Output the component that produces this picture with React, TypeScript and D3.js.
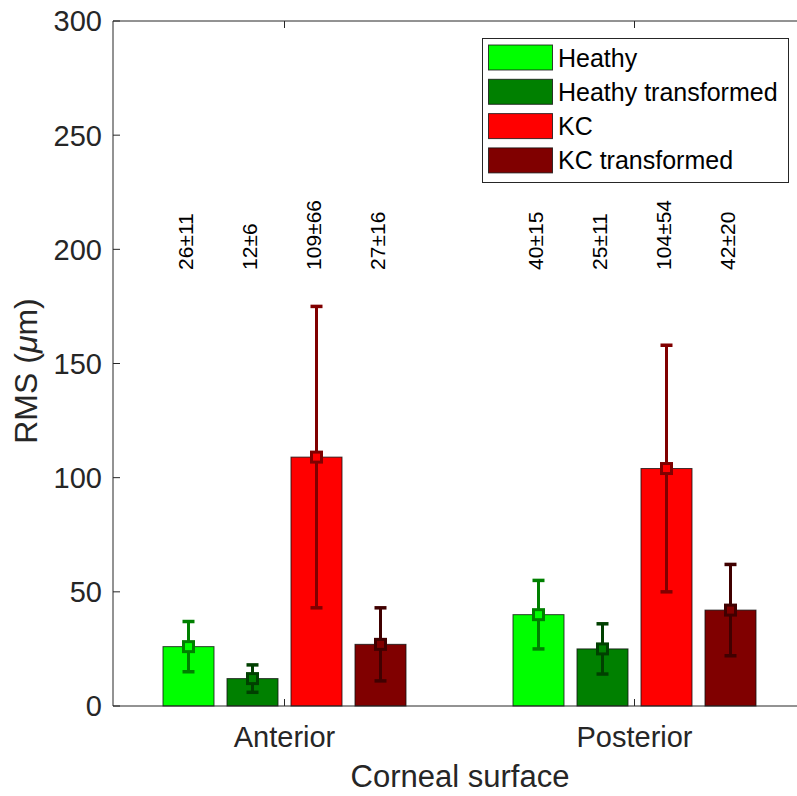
import React, { useEffect, useRef } from "react";
import * as d3 from "d3";

const categories = ["Anterior", "Posterior"];
const series = ["Heathy", "Heathy transformed", "KC", "KC transformed"];
const meanValues = [
  [26, 12, 109, 27],
  [40, 25, 104, 42],
];
const sdValues = [
  [11, 6, 66, 16],
  [15, 11, 54, 20],
];
const yTicks = [0, 50, 100, 150, 200, 250, 300];
const barColors = ["#00ff00", "#008000", "#ff0000", "#800000"];
const errColors = ["#008000", "#004000", "#800000", "#400000"];

const FONT = "'Liberation Sans', Arial, Helvetica, sans-serif";

export default function App() {
  const ref = useRef<SVGSVGElement | null>(null);

  useEffect(() => {
    const m = { left: 113, top: 21, right: 807, bottom: 706 };

    const svg = d3.select(ref.current);
    svg.selectAll("*").remove();

    // groups sit at x = 1 and 2, like matlab's bar()
    const x = d3.scaleLinear().domain([0.51, 2.51]).range([m.left, m.left + 700]);
    const y = d3.scaleLinear().domain([0, 300]).range([m.bottom, m.top]);
    const inner = d3
      .scaleBand()
      .domain(series)
      .range([-128, 128])
      .paddingInner(0.203)
      .paddingOuter(0.1015);

    const g = svg.append("g");

    // bars
    categories.forEach((cat, ci) => {
      const cx = x(ci + 1);
      series.forEach((s, si) => {
        const v = meanValues[ci][si];
        g.append("rect")
          .attr("x", cx + (inner(s) as number))
          .attr("y", y(v))
          .attr("width", inner.bandwidth())
          .attr("height", y(0) - y(v))
          .attr("fill", barColors[si])
          .attr("stroke", "#111")
          .attr("stroke-opacity", 0.8)
          .attr("stroke-width", 1);
      });
    });

    // error bars, markers, text
    categories.forEach((cat, ci) => {
      const cx = x(ci + 1);
      series.forEach((s, si) => {
        const bx = cx + (inner(s) as number) + inner.bandwidth() / 2;
        const v = meanValues[ci][si];
        const e = sdValues[ci][si];
        const col = errColors[si];
        g.append("line")
          .attr("x1", bx).attr("x2", bx)
          .attr("y1", y(v - e)).attr("y2", y(v + e))
          .attr("stroke", col).attr("stroke-width", 3);
        [v - e, v + e].forEach((yy) => {
          g.append("line")
            .attr("x1", bx - 6).attr("x2", bx + 6)
            .attr("y1", y(yy)).attr("y2", y(yy))
            .attr("stroke", col).attr("stroke-width", 3.5);
        });
        g.append("rect")
          .attr("x", bx - 5).attr("y", y(v) - 5)
          .attr("width", 10).attr("height", 10)
          .attr("fill", barColors[si])
          .attr("stroke", col).attr("stroke-width", 3);

        g.append("text")
          .attr("transform", `translate(${bx + 4},${y(191)}) rotate(-90)`)
          .attr("font-family", FONT)
          .attr("font-size", 21)
          .attr("fill", "#000")
          .text(`${v}±${e}`);
      });
    });

    // axes box
    const axisCol = "#262626";
    [
      [m.left, m.bottom, m.right, m.bottom],
      [m.left, m.top, m.right, m.top],
      [m.left, m.top, m.left, m.bottom],
    ].forEach(([x1, y1, x2, y2]) => {
      g.append("line")
        .attr("x1", x1).attr("y1", y1)
        .attr("x2", x2).attr("y2", y2)
        .attr("stroke", axisCol).attr("stroke-width", 1);
    });

    // y ticks
    yTicks.forEach((t) => {
      g.append("line")
        .attr("x1", m.left).attr("x2", m.left + 7)
        .attr("y1", y(t)).attr("y2", y(t))
        .attr("stroke", axisCol).attr("stroke-width", 1);
      g.append("text")
        .attr("x", m.left - 11)
        .attr("y", y(t))
        .attr("dy", "0.36em")
        .attr("text-anchor", "end")
        .attr("font-family", FONT)
        .attr("font-size", 29)
        .attr("fill", axisCol)
        .text(t);
    });

    // x ticks
    categories.forEach((cat, ci) => {
      const cx = x(ci + 1);
      g.append("line")
        .attr("x1", cx).attr("x2", cx)
        .attr("y1", m.bottom).attr("y2", m.bottom - 7)
        .attr("stroke", axisCol).attr("stroke-width", 1);
      g.append("line")
        .attr("x1", cx).attr("x2", cx)
        .attr("y1", m.top).attr("y2", m.top + 7)
        .attr("stroke", axisCol).attr("stroke-width", 1);
      g.append("text")
        .attr("x", cx)
        .attr("y", 747)
        .attr("text-anchor", "middle")
        .attr("font-family", FONT)
        .attr("font-size", 29)
        .attr("fill", axisCol)
        .text(cat);
    });

    // axis labels
    g.append("text")
      .attr("x", (m.left + m.right) / 2)
      .attr("y", 787)
      .attr("text-anchor", "middle")
      .attr("font-family", FONT)
      .attr("font-size", 31)
      .attr("fill", axisCol)
      .text("Corneal surface");

    const yl = g.append("text")
      .attr("transform", `translate(37,371) rotate(-90)`)
      .attr("text-anchor", "middle")
      .attr("font-family", FONT)
      .attr("font-size", 32)
      .attr("fill", axisCol);
    yl.append("tspan").text("RMS (");
    yl.append("tspan").attr("font-style", "italic").text("μ");
    yl.append("tspan").text("m)");

    // legend
    const lg = g.append("g");
    lg.append("rect")
      .attr("x", 482.5).attr("y", 38.5)
      .attr("width", 306).attr("height", 144)
      .attr("fill", "#fff")
      .attr("stroke", axisCol).attr("stroke-width", 1);
    series.forEach((s, si) => {
      const ty = 45 + si * 34.3;
      lg.append("rect")
        .attr("x", 488.5).attr("y", ty)
        .attr("width", 64).attr("height", 25)
        .attr("fill", barColors[si])
        .attr("stroke", "#111").attr("stroke-opacity", 0.8);
      lg.append("text")
        .attr("x", 558)
        .attr("y", ty + 12.5)
        .attr("dy", "0.36em")
        .attr("font-family", FONT)
        .attr("font-size", 25)
        .attr("fill", "#000")
        .text(s);
    });
  }, []);

  return (
    <svg
      ref={ref}
      width={797}
      height={796}
      style={{ position: "absolute", left: 0, top: 0, background: "#fff" }}
    />
  );
}
